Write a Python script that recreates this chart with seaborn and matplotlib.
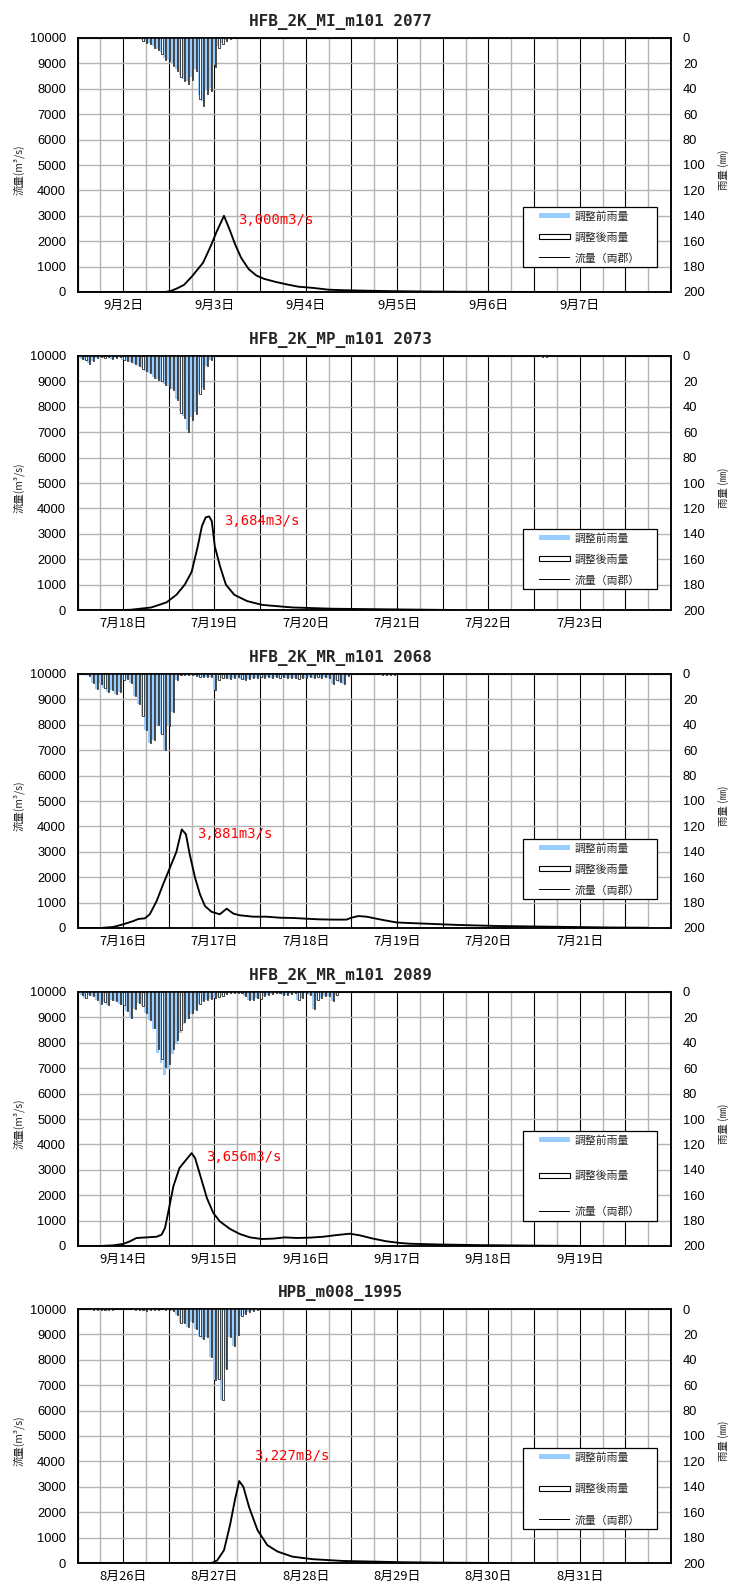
import numpy as np
import matplotlib
matplotlib.use("Agg")
import matplotlib.pyplot as plt
import seaborn as sns
from matplotlib.patches import Rectangle
from matplotlib.legend_handler import HandlerPatch
from matplotlib.transforms import ScaledTranslation

# ---------------------------------------------------------------- data
# hours are counted from the left edge of each panel (6.5 days = 156 h)

P1_TITLE = "HFB_2K_MI_m101 2077"
P1_DAYS = ["9月2日", "9月3日", "9月4日", "9月5日", "9月6日", "9月7日"]
P1_RAIN_HOURS = list(range(17, 41))
P1_RAIN_BEFORE = [1.5, 3.5, 4, 6.5, 8.5, 11, 16, 17, 20.5, 24.5, 29, 32,
                  34, 31, 24.5, 45, 50, 41, 39, 21, 6.5, 4, 1.5, 0.8]
P1_RAIN_AFTER = [2, 4, 4.5, 7.5, 9.5, 12.5, 17.5, 18.5, 22, 26, 31, 34,
                 36, 33, 26, 48, 53.5, 44, 41.5, 22.5, 7.5, 4.5, 2, 1]
P1_FLOW_HOURS = [0, 23, 24.5, 26, 28, 30, 33, 35, 36.5, 38.5, 40, 41.5, 43,
                 45, 47, 49, 52, 55, 58, 62, 66, 70, 76, 82, 90, 100, 112, 125]
P1_FLOW = [0, 0, 40, 130, 280, 600, 1150, 1800, 2350, 3000, 2450, 1850, 1350,
           900, 650, 520, 400, 300, 210, 160, 90, 70, 50, 35, 22, 12, 5, 0]

P2_TITLE = "HFB_2K_MP_m101 2073"
P2_DAYS = ["7月18日", "7月19日", "7月20日", "7月21日", "7月22日", "7月23日"]
P2_RAIN_HOURS = list(range(1, 36)) + [122, 123]
P2_RAIN_BEFORE = [2.5, 3.5, 5.5, 4, 1.5, 1, 1.5, 1, 2, 1.5, 1, 3, 4, 5, 6,
                  7.5, 9.5, 11.5, 13, 16.5, 18.5, 19.5, 22, 24, 26, 34, 43,
                  47, 58, 48, 44, 29, 25, 7.5, 3, 0.8, 0.8]
P2_RAIN_AFTER = [2.5, 3.5, 6, 4, 1.5, 1, 1.5, 1, 2, 1.5, 1, 3, 4, 5, 6.5,
                 8, 10, 12, 13.5, 17, 19, 20, 23, 25, 27, 35, 45, 49, 60,
                 50, 46, 30, 26, 8, 3, 0.8, 0.8]
P2_FLOW_HOURS = [0, 12, 14, 19.4, 23.4, 26, 28.2, 30, 31.6, 32.7, 33.7, 34.6,
                 35.3, 36.1, 37.5, 39, 41.2, 44.6, 48.6, 56.5, 67, 85.7, 99]
P2_FLOW = [0, 0, 10, 100, 300, 600, 1000, 1500, 2500, 3300, 3650, 3684,
           3500, 2500, 1700, 1000, 600, 350, 200, 100, 50, 20, 0]

P3_TITLE = "HFB_2K_MR_m101 2068"
P3_DAYS = ["7月16日", "7月17日", "7月18日", "7月19日", "7月20日", "7月21日"]
P3_RAIN_HOURS = list(range(3, 72)) + list(range(80, 84))
P3_RAIN_AFTER = [1.5, 7, 12, 8, 11, 14, 12.5, 16, 14, 5, 4, 7, 17, 24, 33,
                 44, 54, 52, 40, 47, 60, 41, 30, 5,
                 1, 0.5, 0.5,
                 0.8, 1.5, 2.5, 2.5, 2, 2, 12.5, 4.5, 3.5, 3, 4, 3,
                 2.5, 4, 5, 4, 3.5, 3, 2.5, 3, 2.5, 3, 2.5, 3,
                 2.5, 3, 3.5, 3, 4, 3.5, 3, 2.5, 3, 2.5, 3, 2.5,
                 3, 7.5, 4.5, 6.5, 7.5, 1.5,
                 0.8, 1, 1, 0.8]
P3_RAIN_BEFORE = [1.5, 7, 12, 8, 11, 14, 12.5, 16, 14, 5, 4, 7, 17, 24, 33,
                  44, 54, 52, 40, 47, 60, 41, 30, 5,
                  1, 0.5, 0.5,
                  0.8, 1.5, 2.5, 2.5, 2, 2, 12.5, 4.5, 3.5, 3, 4, 3,
                  2.5, 4, 5, 4, 3.5, 3, 2.5, 3, 2.5, 3, 2.5, 3,
                  2.5, 3, 3.5, 3, 4, 3.5, 3, 2.5, 3, 2.5, 3, 2.5,
                  3, 7.5, 4.5, 6.5, 7.5, 1.5,
                  0.8, 1, 1, 0.8]
P3_FLOW_HOURS = [0, 6, 9.4, 12, 14.7, 16, 17.7, 19, 20.8, 22.5, 24.3, 26,
                 27.4, 28.5, 29.5, 30.9, 32.2, 33.5, 35.2, 37.4, 39.2, 41,
                 42.7, 46.2, 49.7, 53.2, 56.7, 60.2, 63.7, 67.2, 70.7, 72,
                 73.8, 76, 78.6, 81.2, 83.8, 87.3, 90, 100, 110, 120, 130,
                 140, 150]
P3_FLOW = [0, 0, 40, 145, 275, 355, 380, 540, 1060, 1720, 2375, 3000, 3881,
           3690, 2900, 1980, 1325, 865, 640, 540, 760, 565, 500, 445, 445,
           405, 395, 365, 340, 330, 330, 405, 470, 445, 365, 290, 220, 195,
           180, 120, 80, 60, 40, 20, 10]

P4_TITLE = "HFB_2K_MR_m101 2089"
P4_DAYS = ["9月14日", "9月15日", "9月16日", "9月17日", "9月18日", "9月19日"]
P4_RAIN_HOURS = list(range(1, 69))
P4_RAIN_BEFORE = [2.6, 4.7, 2.1, 3.4, 6, 9.2, 8.1, 10, 6.6, 7.3, 9.2, 10, 15,
                  20.5, 13.4, 8.7, 10.8, 16.5, 21.8, 29.5, 48, 56, 65, 61, 49,
                  40.5, 32, 25.5, 21.5, 17.5, 14.4, 9.2, 7.3, 6.3, 5.5, 4.7,
                  3.9, 3.2, 1.8, 0.8,
                  0.5, 0.5,
                  1, 3, 6.5, 6, 4.5, 5.5, 3.5, 2.5, 1.5, 0.5, 0.5, 2, 2, 1.5,
                  0.5, 6.5, 4.5, 1, 2, 13.5, 6, 4.5, 3.5, 3, 7, 2.5]
P4_RAIN_AFTER = [2.6, 4.7, 2.1, 3.4, 6, 9.2, 8.1, 10, 6.6, 7.3, 9.2, 10, 15,
                 20.5, 13.4, 8.7, 10.8, 16.5, 21.8, 28, 45, 53, 59, 57, 45,
                 37.5, 30, 24, 20.5, 16.5, 14.4, 9.2, 7.3, 6.3, 5.5, 4.7,
                 3.9, 3.2, 1.8, 0.8,
                 0.5, 0.5,
                 1, 3, 6.5, 6, 4.5, 5.5, 3.5, 2.5, 1.5, 0.5, 0.5, 2, 2, 1.5,
                 0.5, 6.5, 4.5, 1, 2, 13.5, 6, 4.5, 3.5, 3, 7, 2.5]
P4_FLOW_HOURS = [0, 6, 9.4, 12, 13.8, 15.5, 18.2, 20.8, 22.1, 23, 23.9, 25.2,
                 26.8, 28.2, 30, 30.9, 32.2, 34, 35.7, 37.4, 40.1, 42.7, 45.3,
                 48.4, 51.4, 54.5, 57.6, 61.1, 64.6, 68.1, 71.6, 74.2, 77.7,
                 81.2, 84.7, 87.3, 95, 105, 120, 135]
P4_FLOW = [0, 0, 26, 80, 185, 315, 340, 365, 445, 710, 1365, 2350, 3070,
           3330, 3656, 3465, 2810, 1890, 1300, 970, 670, 470, 340, 275, 290,
           340, 315, 330, 365, 430, 485, 420, 290, 185, 120, 90, 60, 35, 15,
           0]

P5_TITLE = "HPB_m008_1995"
P5_DAYS = ["8月26日", "8月27日", "8月28日", "8月29日", "8月30日", "8月31日"]
P5_RAIN_HOURS = list(range(4, 48))
P5_RAIN_BEFORE = [0.5, 0.5, 0.5, 0.5, 0.5, 0.5,
                  0, 0, 0, 0, 0,
                  0.5, 0.5, 0.8, 1.3, 0.8, 0.5, 0.5, 0.3, 0.5, 0.8,
                  1.3, 4.7, 11.3, 11, 14.4, 10, 16, 21, 24, 21.8, 37.5, 56,
                  55, 72, 47.5, 21.8, 29, 20.5, 5.5, 3.9, 2, 1.3, 0.8]
P5_RAIN_AFTER = [0.5, 0.5, 0.5, 0.5, 0.5, 0.5,
                 0, 0, 0, 0, 0,
                 0.5, 0.5, 0.8, 1.3, 0.8, 0.5, 0.5, 0.3, 0.5, 0.8,
                 1.3, 4.7, 11.3, 11, 14.4, 10, 16, 21, 24, 21.8, 37.5, 56,
                 55, 72, 47.5, 21.8, 29, 20.5, 5.5, 3.9, 2, 1.3, 0.8]
P5_FLOW_HOURS = [0, 35.3, 36.7, 38.5, 40.1, 41.4, 42.5, 43.6, 45.1, 47.3,
                 49.9, 52.6, 56.5, 61.8, 69.8, 85.7, 99, 110]
P5_FLOW = [0, 0, 100, 500, 1500, 2500, 3227, 3000, 2200, 1300, 700, 450, 250,
           150, 80, 30, 10, 0]

SERIES_LABELS = ["調整前雨量", "調整後雨量", "流量（両郡）"]

# ---------------------------------------------------------------- style
sns.set_theme(style="white")
plt.rcParams["font.family"] = ["Noto Sans CJK JP", "DejaVu Sans"]

FIG_W, FIG_H = 732, 1584
AX_LEFT, AX_RIGHT, AX_HEIGHT = 77.5, 671.0, 254.0
PANEL_TOPS = [38, 356, 674, 992, 1309]
SPAN = 156

RAIN_BLUE = "#99ccff"
GRID_GREY = "#b4b4b4"
NUM_FONT = "Liberation Sans"

# per panel: legend box top (px), label spacing, note offset (px right, px down)
LEGEND_TOPS = [207, 529, 839, 1131, 1448]
LEGEND_SPACING = [0.98, 0.98, 0.98, 2.35, 1.95]
NOTE_OFFSETS = [(14, 4), (15, 5), (15, 5), (14, 4), (15, -25)]

fig = plt.figure(figsize=(FIG_W / 100, FIG_H / 100), dpi=100)
fig.patch.set_facecolor("white")


def legend_key(legend, orig_handle, xdescent, ydescent, width, height, fontsize):
    key_w = width * 0.72
    key_h = orig_handle.get_height()
    return Rectangle((-xdescent + width - key_w, -ydescent + (height - key_h) / 2),
                     key_w, key_h, facecolor=orig_handle.get_facecolor(),
                     edgecolor=orig_handle.get_edgecolor(),
                     linewidth=orig_handle.get_linewidth())


def draw_panel(i, title, days, rain_h, rain_before, rain_after, flow_h, flow):
    top = PANEL_TOPS[i]
    ax = fig.add_axes([AX_LEFT / FIG_W, 1 - (top + AX_HEIGHT) / FIG_H,
                       (AX_RIGHT - AX_LEFT) / FIG_W, AX_HEIGHT / FIG_H])
    ax2 = ax.twinx()

    # hydrograph on the left axis
    sns.lineplot(x=flow_h, y=flow, ax=ax, color="black", linewidth=1.35,
                 sort=False, estimator=None, legend=False)

    # hanging rainfall bars on the inverted right axis
    rh = np.asarray(rain_h, dtype=float)
    sns.barplot(x=rh - 0.05, y=rain_before, ax=ax2, native_scale=True, orient="x",
                width=0.78, color=RAIN_BLUE, saturation=1, edgecolor="none",
                linewidth=0, errorbar=None)
    sns.barplot(x=rh + 0.22, y=rain_after, ax=ax2, native_scale=True, orient="x",
                width=0.32, color="white", saturation=1, edgecolor="black",
                linewidth=0.5, errorbar=None)

    ax.set_xlim(0, SPAN)
    ax2.set_xlim(0, SPAN)
    ax.set_ylim(0, 10000)
    ax2.set_ylim(200, 0)

    ax.set_yticks(np.arange(0, 10001, 1000))
    ax2.set_yticks(np.arange(0, 201, 20))
    ax.set_yticklabels([str(v) for v in range(0, 10001, 1000)])
    ax2.set_yticklabels([str(v) for v in range(0, 201, 20)])

    major = np.arange(0, SPAN + 1, 12)
    ax.set_xticks(major)
    ax.set_xticks(np.arange(6, SPAN, 12), minor=True)
    labels = []
    for t in major:
        k = (t - 12) // 24
        labels.append(days[k] if (t - 12) % 24 == 0 and 0 <= k < len(days) else "")
    ax.set_xticklabels(labels)
    shift = ScaledTranslation(-3 / 100, 0, fig.dpi_scale_trans)
    for lab in ax.get_xticklabels():
        lab.set_transform(lab.get_transform() + shift)
        lab.set_fontsize(9.3)

    for lab in ax.get_yticklabels() + ax2.get_yticklabels():
        lab.set_fontfamily(NUM_FONT)
        lab.set_fontsize(9.3)

    ax.tick_params(axis="both", which="both", length=0, colors="black")
    ax.tick_params(axis="y", pad=8.3)
    ax.tick_params(axis="x", pad=5)
    ax2.tick_params(axis="y", length=0, pad=8.6, colors="black")

    ax.set_axisbelow(True)
    ax.grid(False)
    ax.grid(True, which="major", axis="x", color="black", linewidth=0.8)
    ax.grid(True, which="minor", axis="x", color=GRID_GREY, linewidth=1.0)
    ax.grid(True, which="major", axis="y", color=GRID_GREY, linewidth=1.0)
    ax2.grid(False)

    for a in (ax, ax2):
        for s in a.spines.values():
            s.set_color("black")
            s.set_linewidth(1.1)

    ax.set_xlabel("")
    ax2.set_xlabel("")
    ax.set_ylabel("流量(m³/s)", fontsize=7.5)
    ax.yaxis.set_label_coords(-0.0885, 0.48)
    ax2.set_ylabel("雨量 (㎜)", fontsize=7.5)
    ax2.yaxis.set_label_coords(1.079, 0.48)

    # peak annotation
    flow_arr = np.asarray(flow, dtype=float)
    k = int(np.argmax(flow_arr))
    dx, dy = NOTE_OFFSETS[i]
    ax.annotate(f"{flow_arr[k]:,.0f}m3/s", xy=(flow_h[k], flow_arr[k]),
                xytext=(dx * 0.72, -dy * 0.72), textcoords="offset points",
                color="red", fontsize=10, family="DejaVu Sans Mono",
                ha="left", va="center")

    # legend
    handles = [Rectangle((0, 0), 1, 4.0, facecolor=RAIN_BLUE, edgecolor="none", linewidth=0),
               Rectangle((0, 0), 1, 3.4, facecolor="white", edgecolor="black", linewidth=0.8),
               Rectangle((0, 0), 1, 1.1, facecolor="black", edgecolor="none", linewidth=0)]
    x0 = (523 - AX_LEFT) / (AX_RIGHT - AX_LEFT)
    w = 134 / (AX_RIGHT - AX_LEFT)
    ytop = 1 - (LEGEND_TOPS[i] - top) / AX_HEIGHT
    leg = ax2.legend(handles, SERIES_LABELS, loc="upper left",
                     bbox_to_anchor=(x0, ytop, w, 0), mode="expand",
                     borderaxespad=0, borderpad=0.35, fontsize=7.8,
                     handlelength=4.0, handletextpad=0.37,
                     labelspacing=LEGEND_SPACING[i], fancybox=False,
                     framealpha=1, edgecolor="black",
                     handler_map={Rectangle: HandlerPatch(patch_func=legend_key)})
    leg.get_frame().set_linewidth(0.9)

    fig.text(340 / FIG_W, 1 - (top - 16) / FIG_H, title, ha="center", va="center",
             fontsize=11.5, fontweight="bold", family="DejaVu Sans Mono")


draw_panel(0, P1_TITLE, P1_DAYS, P1_RAIN_HOURS, P1_RAIN_BEFORE, P1_RAIN_AFTER, P1_FLOW_HOURS, P1_FLOW)
draw_panel(1, P2_TITLE, P2_DAYS, P2_RAIN_HOURS, P2_RAIN_BEFORE, P2_RAIN_AFTER, P2_FLOW_HOURS, P2_FLOW)
draw_panel(2, P3_TITLE, P3_DAYS, P3_RAIN_HOURS, P3_RAIN_BEFORE, P3_RAIN_AFTER, P3_FLOW_HOURS, P3_FLOW)
draw_panel(3, P4_TITLE, P4_DAYS, P4_RAIN_HOURS, P4_RAIN_BEFORE, P4_RAIN_AFTER, P4_FLOW_HOURS, P4_FLOW)
draw_panel(4, P5_TITLE, P5_DAYS, P5_RAIN_HOURS, P5_RAIN_BEFORE, P5_RAIN_AFTER, P5_FLOW_HOURS, P5_FLOW)

fig.savefig("out.png", dpi=100, facecolor="white")
